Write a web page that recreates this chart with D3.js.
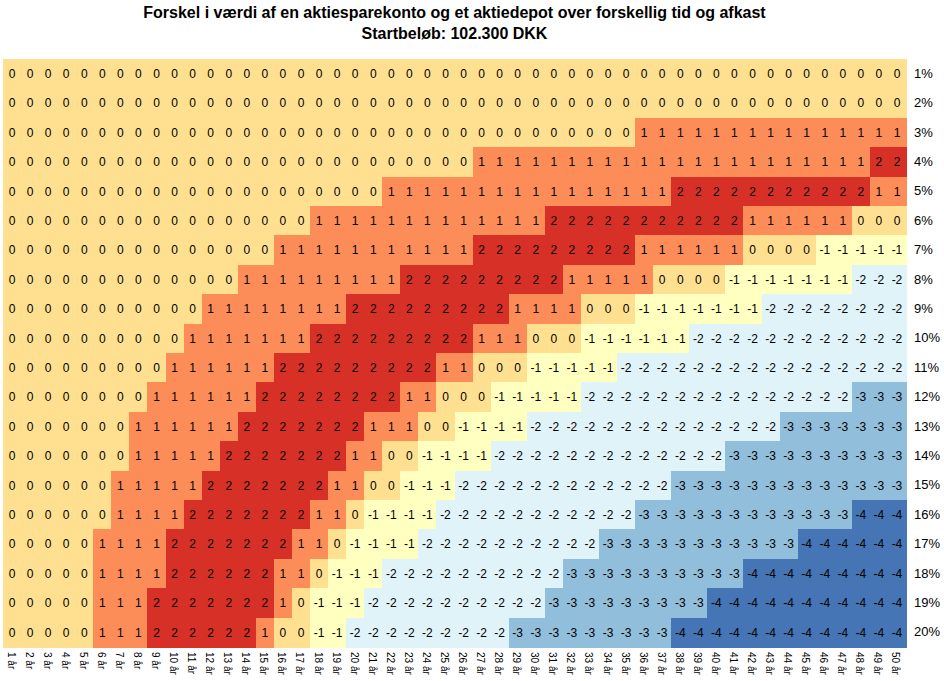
<!DOCTYPE html>
<html lang="da">
<head>
    <meta charset="UTF-8">
    <title>Forskel i værdi</title>
    <script src="https://d3js.org/d3.v7.min.js"></script>
    <style>
        body { margin: 0; background: #fff; font-family: "Liberation Sans", Arial, sans-serif; }
    </style>
</head>
<body>
<div id="chart"></div>
<script>
    // years (columns) and returns (rows)
    const years = ["1 år","2 år","3 år","4 år","5 år","6 år","7 år","8 år","9 år","10 år",
        "11 år","12 år","13 år","14 år","15 år","16 år","17 år","18 år","19 år","20 år",
        "21 år","22 år","23 år","24 år","25 år","26 år","27 år","28 år","29 år","30 år",
        "31 år","32 år","33 år","34 år","35 år","36 år","37 år","38 år","39 år","40 år",
        "41 år","42 år","43 år","44 år","45 år","46 år","47 år","48 år","49 år","50 år"];
    const returns = ["1%","2%","3%","4%","5%","6%","7%","8%","9%","10%",
        "11%","12%","13%","14%","15%","16%","17%","18%","19%","20%"];

    // one row per return, 50 values each
    const values = [
        [0,0,0,0,0,0,0,0,0,0, 0,0,0,0,0,0,0,0,0,0, 0,0,0,0,0,0,0,0,0,0, 0,0,0,0,0,0,0,0,0,0, 0,0,0,0,0,0,0,0,0,0],
        [0,0,0,0,0,0,0,0,0,0, 0,0,0,0,0,0,0,0,0,0, 0,0,0,0,0,0,0,0,0,0, 0,0,0,0,0,0,0,0,0,0, 0,0,0,0,0,0,0,0,0,0],
        [0,0,0,0,0,0,0,0,0,0, 0,0,0,0,0,0,0,0,0,0, 0,0,0,0,0,0,0,0,0,0, 0,0,0,0,0,1,1,1,1,1, 1,1,1,1,1,1,1,1,1,1],
        [0,0,0,0,0,0,0,0,0,0, 0,0,0,0,0,0,0,0,0,0, 0,0,0,0,0,0,1,1,1,1, 1,1,1,1,1,1,1,1,1,1, 1,1,1,1,1,1,1,1,2,2],
        [0,0,0,0,0,0,0,0,0,0, 0,0,0,0,0,0,0,0,0,0, 0,1,1,1,1,1,1,1,1,1, 1,1,1,1,1,1,1,2,2,2, 2,2,2,2,2,2,2,2,1,1],
        [0,0,0,0,0,0,0,0,0,0, 0,0,0,0,0,0,0,1,1,1, 1,1,1,1,1,1,1,1,1,1, 2,2,2,2,2,2,2,2,2,2, 2,1,1,1,1,1,1,0,0,0],
        [0,0,0,0,0,0,0,0,0,0, 0,0,0,0,0,1,1,1,1,1, 1,1,1,1,1,1,2,2,2,2, 2,2,2,2,2,1,1,1,1,1, 1,0,0,0,0,-1,-1,-1,-1,-1],
        [0,0,0,0,0,0,0,0,0,0, 0,0,0,1,1,1,1,1,1,1, 1,1,2,2,2,2,2,2,2,2, 2,1,1,1,1,1,0,0,0,0, -1,-1,-1,-1,-1,-1,-1,-2,-2,-2],
        [0,0,0,0,0,0,0,0,0,0, 0,1,1,1,1,1,1,1,1,2, 2,2,2,2,2,2,2,2,1,1, 1,1,0,0,0,-1,-1,-1,-1,-1, -1,-1,-2,-2,-2,-2,-2,-2,-2,-2],
        [0,0,0,0,0,0,0,0,0,0, 1,1,1,1,1,1,1,2,2,2, 2,2,2,2,2,2,1,1,1,0, 0,0,-1,-1,-1,-1,-1,-1,-2,-2, -2,-2,-2,-2,-2,-2,-2,-2,-2,-2],
        [0,0,0,0,0,0,0,0,0,1, 1,1,1,1,1,2,2,2,2,2, 2,2,2,2,1,1,0,0,0,-1, -1,-1,-1,-1,-2,-2,-2,-2,-2,-2, -2,-2,-2,-2,-2,-2,-2,-2,-2,-2],
        [0,0,0,0,0,0,0,0,1,1, 1,1,1,1,2,2,2,2,2,2, 2,2,1,1,0,0,0,-1,-1,-1, -1,-1,-2,-2,-2,-2,-2,-2,-2,-2, -2,-2,-2,-2,-2,-2,-2,-3,-3,-3],
        [0,0,0,0,0,0,0,1,1,1, 1,1,1,2,2,2,2,2,2,2, 1,1,1,0,0,-1,-1,-1,-1,-2, -2,-2,-2,-2,-2,-2,-2,-2,-2,-2, -2,-2,-2,-3,-3,-3,-3,-3,-3,-3],
        [0,0,0,0,0,0,0,1,1,1, 1,1,2,2,2,2,2,2,2,1, 1,0,0,-1,-1,-1,-1,-2,-2,-2, -2,-2,-2,-2,-2,-2,-2,-2,-2,-2, -3,-3,-3,-3,-3,-3,-3,-3,-3,-3],
        [0,0,0,0,0,0,1,1,1,1, 1,2,2,2,2,2,2,2,1,1, 0,0,-1,-1,-1,-2,-2,-2,-2,-2, -2,-2,-2,-2,-2,-2,-2,-3,-3,-3, -3,-3,-3,-3,-3,-3,-3,-3,-3,-3],
        [0,0,0,0,0,0,1,1,1,1, 2,2,2,2,2,2,2,1,1,0, -1,-1,-1,-1,-2,-2,-2,-2,-2,-2, -2,-2,-2,-2,-2,-3,-3,-3,-3,-3, -3,-3,-3,-3,-3,-3,-3,-4,-4,-4],
        [0,0,0,0,0,1,1,1,1,2, 2,2,2,2,2,2,1,1,0,-1, -1,-1,-1,-2,-2,-2,-2,-2,-2,-2, -2,-2,-2,-3,-3,-3,-3,-3,-3,-3, -3,-3,-3,-3,-4,-4,-4,-4,-4,-4],
        [0,0,0,0,0,1,1,1,1,2, 2,2,2,2,2,1,1,0,-1,-1, -1,-2,-2,-2,-2,-2,-2,-2,-2,-2, -2,-3,-3,-3,-3,-3,-3,-3,-3,-3, -3,-4,-4,-4,-4,-4,-4,-4,-4,-4],
        [0,0,0,0,0,1,1,1,2,2, 2,2,2,2,2,1,0,-1,-1,-1, -2,-2,-2,-2,-2,-2,-2,-2,-2,-2, -3,-3,-3,-3,-3,-3,-3,-3,-3,-4, -4,-4,-4,-4,-4,-4,-4,-4,-4,-4],
        [0,0,0,0,0,1,1,1,2,2, 2,2,2,2,1,0,0,-1,-1,-2, -2,-2,-2,-2,-2,-2,-2,-2,-3,-3, -3,-3,-3,-3,-3,-3,-3,-4,-4,-4, -4,-4,-4,-4,-4,-4,-4,-4,-4,-4]
    ];

    const levels = [-4, -3, -2, -1, 0, 1, 2];
    const levelColors = ["#4575b4", "#91bfdb", "#e0f3f8", "#ffffbf", "#fee090", "#fc8d59", "#d73027"];

    const width = 944;
    const height = 681;
    const margin = { top: 59, right: 38, bottom: 34, left: 3 };

    const svg = d3.select("#chart").append("svg")
        .attr("width", width)
        .attr("height", height);

    const x = d3.scaleBand()
        .domain(years)
        .range([margin.left, width - margin.right]);

    const y = d3.scaleBand()
        .domain(returns)
        .range([margin.top, height - margin.bottom]);

    const color = d3.scaleOrdinal()
        .domain(levels)
        .range(levelColors);

    // flatten to cells
    const cells = [];
    returns.forEach((r, i) => {
        years.forEach((yr, j) => {
            cells.push({ row: r, col: yr, v: values[i][j] });
        });
    });

    svg.append("g").selectAll("rect")
        .data(cells)
        .enter()
        .append("rect")
        .attr("x", d => x(d.col))
        .attr("y", d => y(d.row))
        .attr("width", x.bandwidth() + 0.5)
        .attr("height", y.bandwidth() + 0.5)
        .attr("fill", d => color(d.v))
        .attr("shape-rendering", "crispEdges");

    svg.append("g").selectAll("text")
        .data(cells)
        .enter()
        .append("text")
        .attr("x", d => x(d.col) + x.bandwidth() / 2)
        .attr("y", d => y(d.row) + y.bandwidth() / 2)
        .attr("dy", "0.35em")
        .attr("text-anchor", "middle")
        .attr("font-size", "12px")
        .attr("fill", "#000")
        .text(d => d.v);

    // row labels on the right
    const yAxis = svg.append("g")
        .attr("transform", `translate(${width - margin.right},0)`)
        .call(d3.axisRight(y).tickSize(0).tickPadding(8));
    yAxis.select(".domain").remove();
    yAxis.selectAll("text")
        .attr("font-size", "13px")
        .attr("font-family", "Liberation Sans, Arial, sans-serif")
        .attr("fill", "#000");

    // year labels, rotated
    const xAxis = svg.append("g")
        .attr("transform", `translate(0,${height - margin.bottom})`)
        .call(d3.axisBottom(x).tickSize(0).tickPadding(0));
    xAxis.select(".domain").remove();
    xAxis.selectAll("text")
        .attr("font-size", "10px")
        .attr("font-family", "Liberation Sans, Arial, sans-serif")
        .attr("fill", "#000")
        .attr("text-anchor", "start")
        .attr("transform", "translate(-1,5) rotate(90)")
        .attr("x", 0)
        .attr("y", 0)
        .attr("dy", "0.35em");

    // title, centred over the grid
    const titleX = (margin.left + width - margin.right) / 2;
    svg.append("text")
        .attr("x", titleX)
        .attr("y", 18)
        .attr("text-anchor", "middle")
        .attr("font-size", "16px")
        .attr("font-weight", "bold")
        .text("Forskel i værdi af en aktiesparekonto og et aktiedepot over forskellig tid og afkast");

    svg.append("text")
        .attr("x", titleX)
        .attr("y", 39)
        .attr("text-anchor", "middle")
        .attr("font-size", "16px")
        .attr("font-weight", "bold")
        .text("Startbeløb: 102.300 DKK");
</script>
</body>
</html>
